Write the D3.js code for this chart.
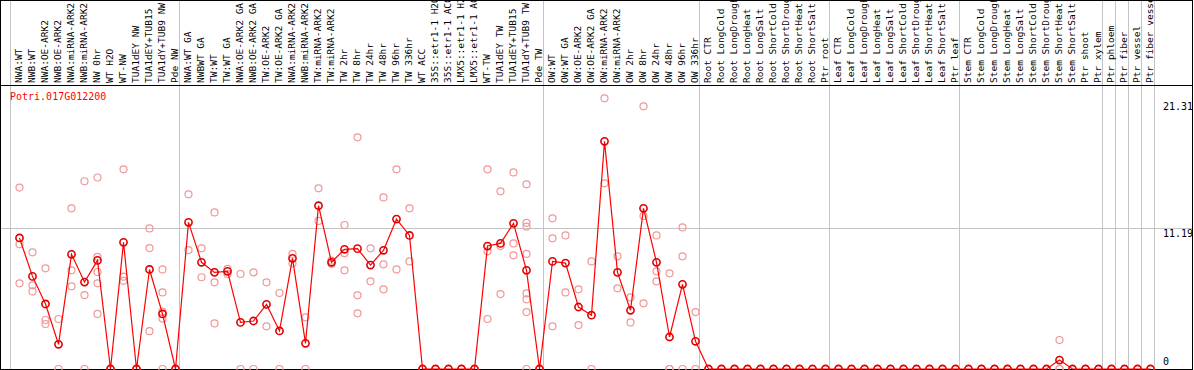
<!DOCTYPE html>
<html>
<head>
<meta charset="utf-8">
<script src="https://cdn.jsdelivr.net/npm/d3@7"></script>
<style>
  body { margin: 0; background: #fff; }
  svg { display: block; }
</style>
</head>
<body>
<div id="graph-section"></div>
<script>
var geneName = "Potri.017G012200"

var labels = [
  "NWA:WT", "NWB:WT", "NWA:OE-ARK2", "NWB:OE-ARK2", "NWA:miRNA-ARK2", "NWB:miRNA-ARK2",
  "NW 0hr", "WT H2O", "WT-NW", "TUA1dEY NW", "TUA1dEY+TUB15", "TUA1dY+TUB9 NW", "Pde NW",
  "NWA:WT GA", "NWBWT GA", "TW:WT", "TW:WT GA", "NWA:OE-ARK2 GA", "NWB:OE-ARK2 GA",
  "TW:OE-ARK2", "TW:OE-ARK2 GA", "NWA:miRNA-ARK2", "NWB:miRNA-ARK2", "TW:miRNA-ARK2", "TW:miRNA-ARK2",
  "TW 2hr", "TW 8hr", "TW 24hr", "TW 48hr", "TW 96hr", "TW 336hr", "WT ACC",
  "35S::etr1-1 H2O", "35S::etr1-1 ACC", "LMX5::etr1-1 H2O", "LMX5::etr1-1 ACC",
  "WT-TW", "TUA1dEY TW", "TUA1dEY+TUB15", "TUA1dY+TUB9 TW", "Pde TW",
  "OW:WT", "OW:WT GA", "OW:OE-ARK2", "OW:OE-ARK2 GA", "OW:miRNA-ARK2", "OW:miRNA-ARK2",
  "OW 2hr", "OW 8hr", "OW 24hr", "OW 48hr", "OW 96hr", "OW 336hr",
  "Root CTR", "Root LongCold", "Root LongDrought", "Root LongHeat", "Root LongSalt",
  "Root ShortCold", "Root ShortDrought", "Root ShortHeat", "Root ShortSalt", "Ptr root",
  "Leaf CTR", "Leaf LongCold", "Leaf LongDrought", "Leaf LongHeat", "Leaf LongSalt",
  "Leaf ShortCold", "Leaf ShortDrought", "Leaf ShortHeat", "Leaf ShortSalt", "Ptr leaf",
  "Stem CTR", "Stem LongCold", "Stem LongDrought", "Stem LongHeat", "Stem LongSalt",
  "Stem ShortCold", "Stem ShortDrought", "Stem ShortHeat", "Stem ShortSalt", "Ptr shoot", "Ptr xylem",
  "Ptr phloem", "Ptr fiber", "Ptr vessel", "Ptr fiber vessel"
]

// how many samples sit in each block between the grey dividers
var groupSizes = [13, 28, 12, 10, 10, 11, 1, 1, 1, 1]

// mean expression for each sample (the line)
var means = [
  10.4, 7.35, 5.16, 1.96, 9.1, 6.9, 8.62, 0, 10.05, 0, 7.9, 4.37, 0,
  11.64, 8.47, 7.67, 7.75, 3.7, 3.81, 5.13, 3.02, 8.78, 2.04, 12.96, 8.47,
  9.5, 9.55, 8.25, 9.42, 11.9, 10.6, 0, 0, 0, 0, 0, 9.76, 9.97, 11.56, 7.83, 0,
  8.54, 8.41, 4.92, 4.27, 18.07, 7.67, 4.66, 12.75, 8.47, 2.54, 6.72, 2.2,
  0, 0, 0, 0, 0, 0, 0, 0, 0, 0,
  0, 0, 0, 0, 0, 0, 0, 0, 0, 0,
  0, 0, 0, 0, 0, 0, 0, 0.71, 0, 0, 0,
  0, 0, 0, 0
]

// single replicate values (light circles)
var replicates = [
  [14.4, 9.9, 6.8], [9.26, 6.64, 6.16], [7.99, 3.89, 3.57], [3.97, 0], [12.75, 7.83, 6.56],
  [14.9, 5.87, 0], [15.2, 8.9, 7.7, 6.8, 4.37], [0, 0], [15.85, 7.33, 7.0], [0, 0],
  [11.16, 9.6, 3.0], [7.9, 6.08, 4.55, 4.0, 0], [0, 0],
  [13.86, 9.44], [9.58, 7.28], [12.43, 6.88, 3.62], [7.94, 7.54], [7.54, 0], [7.67, 0],
  [6.88, 3.39], [6.03, 0], [9.13, 8.39], [4.1, 0], [14.34, 11.75], [8.6, 8.35],
  [11.43, 9.2, 7.83], [18.39, 5.85, 4.42], [9.58, 6.96], [13.62, 8.31, 6.32], [15.85, 7.9],
  [12.75, 8.54], [0, 0], [0, 0], [0, 0], [0, 0], [0, 0],
  [15.85, 9.34, 3.97], [14.1, 9.76, 5.95], [15.6, 9.97, 9.02],
  [14.66, 11.6, 11.3, 9.13, 6.0, 5.53, 4.52, 0], [0, 0],
  [11.96, 10.37, 3.39], [10.6, 6.08], [6.32, 3.49], [8.54, 0], [21.48, 14.74],
  [8.94, 6.4], [5.69, 3.7], [20.85, 12.14, 5.21], [10.6, 7.75, 6.96], [7.59, 0, 0],
  [11.24, 8.94, 0], [4.52, 0],
  [0, 0], [0, 0], [0, 0], [0, 0], [0, 0], [0, 0], [0, 0], [0, 0], [0, 0], [0, 0],
  [0, 0], [0, 0], [0, 0], [0, 0], [0, 0], [0, 0], [0, 0], [0, 0], [0, 0], [0, 0],
  [0, 0], [0, 0], [0, 0], [0, 0], [0, 0], [0, 0], [0, 0], [2.3, 0, 0], [0, 0], [0, 0], [0, 0],
  [0, 0], [0, 0], [0, 0], [0, 0]
]

var yTicks = [0, 11.19, 21.31]
var yTickLabels = ["0", "11.19", "21.31"]

var width = 1194, height = 370
var headerBottom = 85, plotBottom = 369, rightEdge = 1192

var svg = d3.select("div#graph-section").append("svg")
    .attr("width", width)
    .attr("height", height)
    .style("font-family", "'DejaVu Sans Mono', 'Liberation Mono', monospace")

var xScale = d3.scaleLinear()
    .domain([0, labels.length - 1])
    .range([19.5, 19.5 + 13 * (labels.length - 1)])

var yScale = d3.scaleLinear()
    .domain([0, 21.31])
    .range([plotBottom, 100.5])

// grey group dividers, running through header and plot
var bounds = [0]
groupSizes.forEach(function(s) { bounds.push(bounds[bounds.length - 1] + s) })

svg.selectAll(".divider")
    .data(bounds)
  .enter().append("line")
    .attr("class", "divider")
    .attr("x1", function(d) { return xScale(d) - 9 })
    .attr("x2", function(d) { return xScale(d) - 9 })
    .attr("y1", 0)
    .attr("y2", plotBottom)
    .attr("stroke", "#c4c4c4")
    .attr("stroke-width", 1)

// horizontal grid line at the middle tick
var gy = Math.round(yScale(11.19)) + 0.5
svg.append("line")
    .attr("x1", 0).attr("x2", rightEdge)
    .attr("y1", gy).attr("y2", gy)
    .attr("stroke", "#c4c4c4")

// frame
svg.append("rect")
    .attr("x", 0.5).attr("y", 0.5)
    .attr("width", rightEdge)
    .attr("height", plotBottom)
    .attr("fill", "none")
    .attr("stroke", "#000")
svg.append("line")
    .attr("x1", 0).attr("x2", rightEdge + 1)
    .attr("y1", headerBottom + 0.5).attr("y2", headerBottom + 0.5)
    .attr("stroke", "#000")

// sample names, written upward
svg.selectAll(".lbl")
    .data(labels)
  .enter().append("text")
    .attr("class", "lbl")
    .attr("transform", function(d, i) { return "translate(" + (xScale(i) + 2) + "," + (headerBottom - 2) + ")rotate(-90)" })
    .style("font-size", "9.5px")
    .attr("fill", "#000")
    .text(function(d) { return d })

// y tick labels on the right
svg.selectAll(".ytick")
    .data(yTicks)
  .enter().append("text")
    .attr("class", "ytick")
    .attr("x", 1163)
    .attr("y", function(d) { return d == 0 ? plotBottom - 4 : yScale(d) + 9 })
    .style("font-size", "10px")
    .attr("fill", "#000")
    .text(function(d, i) { return yTickLabels[i] })

svg.append("text")
    .attr("x", 10)
    .attr("y", 100)
    .style("font-size", "10px")
    .attr("fill", "#f00")
    .text(geneName)

// replicate circles
var repPoints = []
replicates.forEach(function(r, i) {
    r.forEach(function(v) { repPoints.push({i: i, v: v}) })
})
svg.selectAll(".rep")
    .data(repPoints)
  .enter().append("circle")
    .attr("class", "rep")
    .attr("cx", function(d) { return xScale(d.i) })
    .attr("cy", function(d) { return yScale(d.v) })
    .attr("r", 3.5)
    .attr("fill", "none")
    .attr("stroke", "#f09898")
    .attr("stroke-width", 1.2)

// mean line
var line = d3.line()
    .x(function(d, i) { return xScale(i) })
    .y(function(d) { return yScale(d) })

svg.append("path")
    .datum(means)
    .attr("d", line)
    .attr("fill", "none")
    .attr("stroke", "#f00")
    .attr("stroke-width", 1.2)

svg.selectAll(".dot")
    .data(means)
  .enter().append("circle")
    .attr("class", "dot")
    .attr("cx", function(d, i) { return xScale(i) })
    .attr("cy", function(d) { return yScale(d) })
    .attr("r", 3.6)
    .attr("fill", "none")
    .attr("stroke", "#e00000")
    .attr("stroke-width", 1.6)
</script>
</body>
</html>
